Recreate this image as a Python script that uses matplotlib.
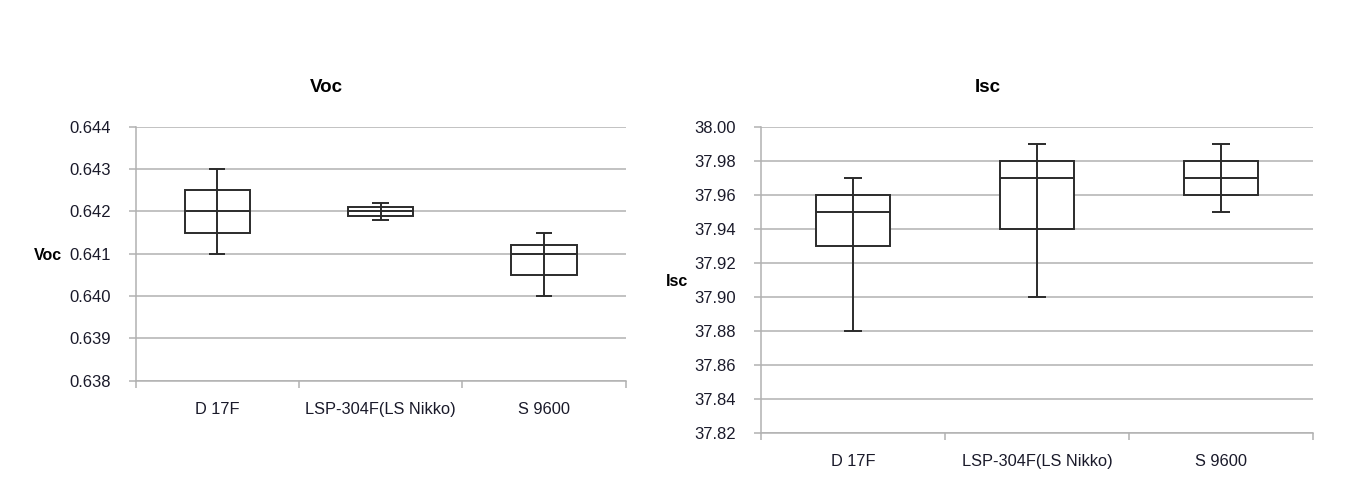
import matplotlib
matplotlib.use('Agg')
import matplotlib.pyplot as plt
import numpy as np

plt.rcParams['font.family'] = ['Liberation Sans', 'DejaVu Sans']

categories = ['D 17F', 'LSP-304F(LS Nikko)', 'S 9600']

# Voc: min, q1, median, q3, max per category
voc_min = [0.6410, 0.6418, 0.6400]
voc_q1 = [0.6415, 0.6419, 0.6405]
voc_med = [0.6420, 0.6420, 0.6410]
voc_q3 = [0.6425, 0.6421, 0.6412]
voc_max = [0.6430, 0.6422, 0.6415]
voc_ticks = [0.638, 0.639, 0.640, 0.641, 0.642, 0.643, 0.644]

# Isc
isc_min = [37.88, 37.90, 37.95]
isc_q1 = [37.93, 37.94, 37.96]
isc_med = [37.95, 37.97, 37.97]
isc_q3 = [37.96, 37.98, 37.98]
isc_max = [37.97, 37.99, 37.99]
isc_ticks = [37.82, 37.84, 37.86, 37.88, 37.90, 37.92, 37.94, 37.96, 37.98, 38.00]

GRID = '#b2b2b2'
BOX = '#2b2b2b'
TXT = '#1a1a2a'


def draw_panel(ax, mins, q1, med, q3, maxs, ticks, fmt):
    x = np.arange(1, len(categories) + 1)
    w = 0.40
    cap = 0.05
    ax.bar(x, np.array(q3) - np.array(q1), bottom=q1, width=w,
           color='white', edgecolor=BOX, linewidth=1.4, zorder=3)
    ax.hlines(med, x - w / 2, x + w / 2, color=BOX, linewidth=1.4, zorder=4)
    ax.vlines(x, mins, maxs, color=BOX, linewidth=1.4, zorder=5)
    ax.hlines(mins, x - cap, x + cap, color=BOX, linewidth=1.4, zorder=5)
    ax.hlines(maxs, x - cap, x + cap, color=BOX, linewidth=1.4, zorder=5)

    ax.set_xlim(0.5, len(categories) + 0.5)
    ax.set_ylim(ticks[0], ticks[-1])
    ax.set_yticks(ticks)
    ax.set_yticklabels([fmt.format(t) for t in ticks])
    ax.yaxis.grid(True, color=GRID, linewidth=1.1)
    ax.set_axisbelow(True)

    ax.set_xticks(x)
    ax.set_xticklabels(categories)
    ax.set_xticks(np.arange(0.5, len(categories) + 1), minor=True)
    ax.tick_params(axis='x', which='major', length=0, pad=15, labelsize=11.8, labelcolor=TXT)
    ax.tick_params(axis='x', which='minor', length=5, width=1.1, color=GRID)
    ax.tick_params(axis='y', length=5, width=1.1, color=GRID, pad=13, labelsize=12, labelcolor=TXT)

    for s in ['top', 'right']:
        ax.spines[s].set_visible(False)
    for s in ['left', 'bottom']:
        ax.spines[s].set_color(GRID)
        ax.spines[s].set_linewidth(1.1)


fig = plt.figure(figsize=(13.66, 4.93), dpi=100)

ax1 = fig.add_axes([0.0993, 0.2278, 0.3587, 0.5152])
draw_panel(ax1, voc_min, voc_q1, voc_med, voc_q3, voc_max, voc_ticks, '{:.3f}')

ax2 = fig.add_axes([0.5569, 0.1211, 0.4043, 0.6219])
draw_panel(ax2, isc_min, isc_q1, isc_med, isc_q3, isc_max, isc_ticks, '{:.2f}')

fig.text(326 / 1366, 1 - 88 / 493, 'Voc', ha='center', va='center',
         fontsize=13.5, fontweight='bold', color='black')
fig.text(988 / 1366, 1 - 88 / 493, 'Isc', ha='center', va='center',
         fontsize=13.5, fontweight='bold', color='black')
fig.text(48 / 1366, 1 - 255 / 493, 'Voc', ha='center', va='center',
         fontsize=11.5, fontweight='bold', color='black')
fig.text(677 / 1366, 1 - 282 / 493, 'Isc', ha='center', va='center',
         fontsize=11.5, fontweight='bold', color='black')

fig.savefig('out.png', dpi=100)
